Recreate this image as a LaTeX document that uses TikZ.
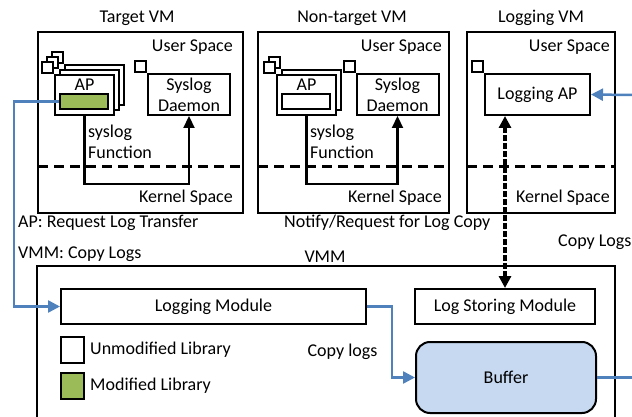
\documentclass[tikz,border=0pt]{standalone}
\usepackage{fontspec}
\setmainfont{Carlito}
\usetikzlibrary{positioning,calc,arrows.meta}

\definecolor{libgreen}{HTML}{9BBB59}
\definecolor{linkblue}{HTML}{4F81BD}
\definecolor{bufblue}{HTML}{C6D9F1}

\begin{document}
\begin{tikzpicture}[x=1pt,y=-1pt,inner sep=1pt,
                       font=\fontsize{18}{21}\selectfont,
                       vm box/.style={draw,line width=2.2pt,inner sep=0pt},
                       plain box/.style={draw,fill=white,line width=2pt,inner sep=0pt,
                                         align=center},
                       tab/.style={draw,fill=white,line width=1.8pt,minimum size=11pt,
                                   inner sep=0pt,anchor=south east},
                       lib box/.style={draw,line width=1.8pt,minimum width=48pt,
                                       minimum height=15pt,inner sep=0pt},
                       key box/.style={draw,line width=2pt,minimum width=23pt,
                                       minimum height=26pt,inner sep=0pt},
                       space line/.style={line width=3pt,dash pattern=on 10pt off 6pt},
                       sys arrow/.style={line width=2.2pt,-{Triangle[length=12pt,width=11pt]}},
                       link line/.style={draw=linkblue,line width=2.5pt},
                       link arrow/.style={link line,-{Triangle[length=12pt,width=12pt]}},
                       copy arrow/.style={line width=3.5pt,dash pattern=on 6pt off 2pt,
                                          {Triangle[length=12pt,width=12pt]}-{Triangle[length=12pt,width=12pt]}}
                      ]
   \clip (0,0) rectangle (632,417);

   % guest machines
   \node[vm box,minimum width=205pt,minimum height=181pt] (tvm) at (140.5,122.5) {};
   \node[vm box,minimum width=191pt,minimum height=181pt] (nvm) at (353.5,122.5) {};
   \node[vm box,minimum width=148pt,minimum height=181pt] (lvm) at (541,122.5) {};
   \node (tvmname) at (137,18) {Target VM};
   \node (nvmname) at (352,18) {Non-target VM};
   \node (lvmname) at (541,18) {Logging VM};

   \node[anchor=east] (tus) at (234,47) {User Space};
   \node[anchor=east] (nus) at (443,47) {User Space};
   \node[anchor=east] (lus) at (611,47) {User Space};
   \node[anchor=east] (tks) at (234,198) {Kernel Space};
   \node[anchor=east] (nks) at (443,198) {Kernel Space};
   \node[anchor=east] (lks) at (611,198) {Kernel Space};
   \draw[space line] (38,167) -- (243,167);
   \draw[space line] (258,167) -- (449,167);
   \draw[space line] (467,167) -- (615,167);

   % target VM
   \foreach \d in {10,5} {
     \node[plain box,minimum width=59pt,minimum height=40pt] (tapb\d) at (84.5+\d,95-\d) {};
     \node[tab] at (tapb\d.north west) {};
   }
   \node[plain box,minimum width=59pt,minimum height=40pt] (tap) at (84.5,95) {};
   \node[tab] at (tap.north west) {};
   \node (taptxt) at (84.5,85) {AP};
   \node[lib box,fill=libgreen] (tmod) at (84,101.5) {};
   \node[plain box,minimum width=82pt,minimum height=41pt] (tsd) at (189,94.5) {Syslog\\Daemon};
   \node[tab] at (tsd.north west) {};
   \node[anchor=north west,align=left] (tfn) at (87,124) {syslog\\Function};
   \draw[sys arrow] (tap.south) -- ++(0,68) -| (tsd.south);

   % non-target VM
   \node[plain box,minimum width=59pt,minimum height=40pt] (napb) at (311.5,90) {};
   \node[tab] at (napb.north west) {};
   \node[plain box,minimum width=59pt,minimum height=40pt] (nap) at (306.5,95) {};
   \node[tab] at (nap.north west) {};
   \node (naptxt) at (306.5,85) {AP};
   \node[lib box,fill=white] (nlib) at (306,101.5) {};
   \node[plain box,minimum width=82pt,minimum height=41pt] (nsd) at (397.5,94.5) {Syslog\\Daemon};
   \node[tab] at (nsd.north west) {};
   \node[anchor=north west,align=left] (nfn) at (309,124) {syslog\\Function};
   \draw[sys arrow] (nap.south) -- ++(0,68) -| (nsd.south);

   % logging VM
   \node[plain box,minimum width=105pt,minimum height=41pt] (lap) at (537.5,94.5) {Logging AP};
   \node[tab] at (lap.north west) {};
   \coordinate (apin) at (632,95);
   \draw[link arrow] (apin) -- (lap.east);

   % VMM
   \node[vm box,minimum width=578pt,minimum height=200pt] (vmm) at (326,366) {};
   \node (vmmname) at (325,257) {VMM};
   \node[plain box,minimum width=305pt,minimum height=35pt] (lm) at (213.5,306.5) {Logging Module};
   \node[plain box,minimum width=180pt,minimum height=35pt] (lsm) at (505,306.5) {Log Storing Module};
   \node[plain box,fill=bufblue,rounded corners=14pt,minimum width=180pt,
         minimum height=71pt] (buf) at (506,377.5) {Buffer};
   \node[key box,fill=white] (unmod) at (72.5,350) {};
   \node[key box,fill=libgreen] (mod) at (72.5,386) {};
   \node[anchor=west,xshift=4pt] (unmodtxt) at (unmod.east) {Unmodified Library};
   \node[anchor=west,xshift=4pt] (modtxt) at (mod.east) {Modified Library};
   \node (cplogs) at (342.5,352) {Copy logs};

   % labels between the layers
   \node[anchor=west] (req) at (17,223) {AP: Request Log Transfer};
   \node[anchor=west] (vcopy) at (17,254) {VMM: Copy Logs};
   \node[anchor=west] (notify) at (283,223) {Notify/Request for Log Copy};
   \node[anchor=west] (lcopy) at (557,242) {Copy Logs};

   \draw[copy arrow] (lap.south -| lsm.north) -- (lsm.north);
   \draw[link arrow] (tmod.west) -- ++(-45,0) |- (lm.west);
   \draw[link arrow] (lm.east) -- ++(25,0) |- (buf.west);
   \coordinate (bufout) at (632,377.5);
   \draw[link line] (buf.east) -- (bufout);
  \end{tikzpicture}
\end{document}
